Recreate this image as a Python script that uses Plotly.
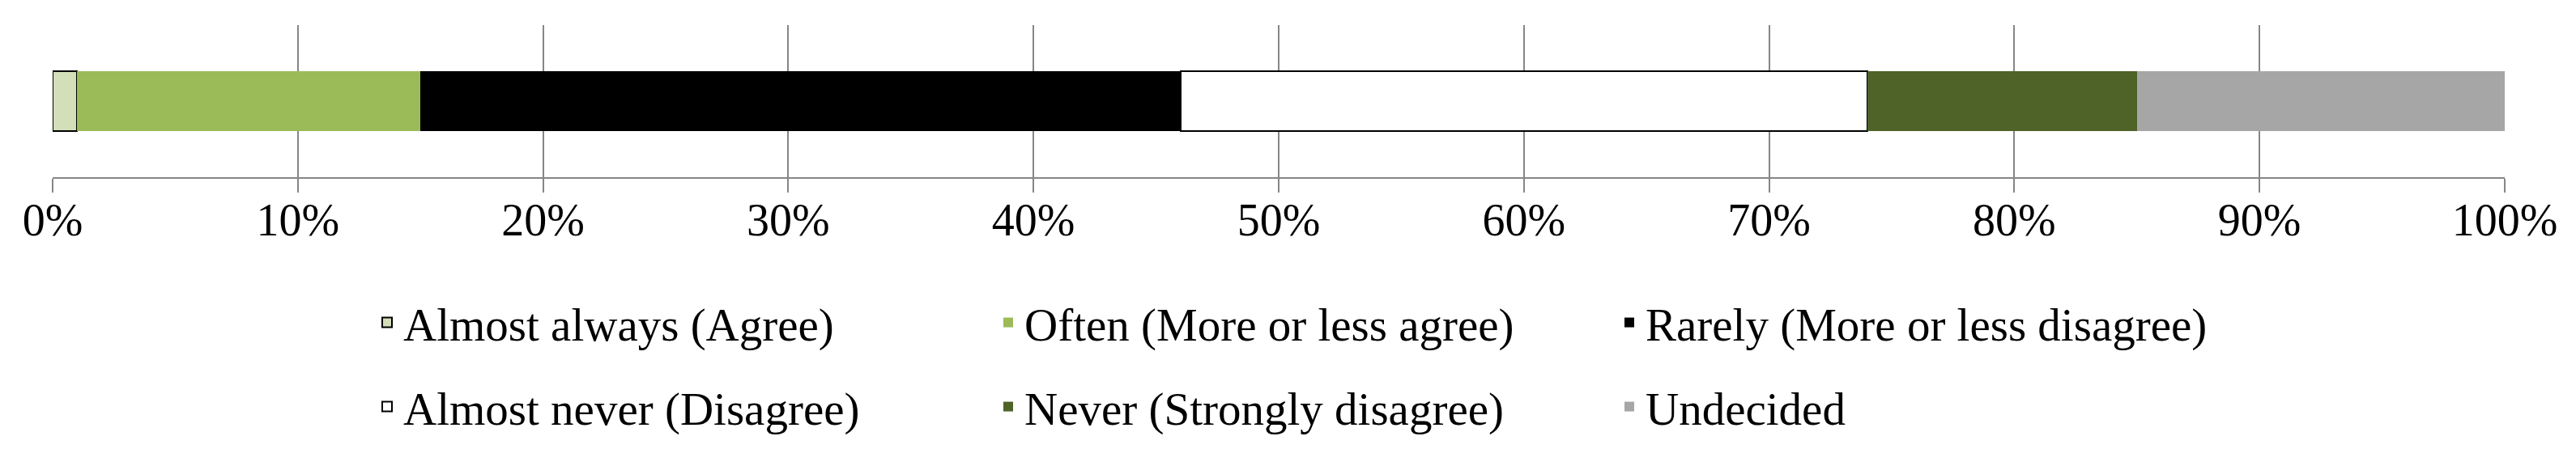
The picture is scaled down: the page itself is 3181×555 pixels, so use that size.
import plotly.graph_objects as go

categories = ["Responses"]
series_names = [
    "Almost always (Agree)",
    "Often (More or less agree)",
    "Rarely (More or less disagree)",
    "Almost never (Disagree)",
    "Never (Strongly disagree)",
    "Undecided",
]
series_values = [1, 14, 31, 28, 11, 15]
series_colors = ["#D3DFB8", "#9BBB59", "#000000", "#FFFFFF", "#4F6228", "#A6A6A6"]
series_borders = [2, 0, 0, 2, 0, 0]
legend_rows = ["legend", "legend", "legend", "legend2", "legend2", "legend2"]
tick_vals = [0, 10, 20, 30, 40, 50, 60, 70, 80, 90, 100]
tick_text = ["0%", "10%", "20%", "30%", "40%", "50%", "60%", "70%", "80%", "90%", "100%"]

W, H = 3181, 555
FONT = "Liberation Serif"
GRID = "#868686"

fig = go.Figure()
for name, val, col, bw, lg in zip(series_names, series_values, series_colors, series_borders, legend_rows):
    fig.add_trace(go.Bar(
        y=categories, x=[val], name=name, orientation="h",
        marker=dict(color=col, line=dict(color="#000000", width=bw)),
        legend=lg,
    ))

leg_common = dict(
    orientation="h", xref="container", yref="container",
    xanchor="left", yanchor="middle",
    entrywidth=722, entrywidthmode="pixels",
    font=dict(family=FONT, size=57, color="#000000"),
    bgcolor="rgba(0,0,0,0)", borderwidth=0, traceorder="normal",
    tracegroupgap=0,
)

fig.update_layout(
    width=W, height=H,
    margin=dict(l=57, r=96, t=23, b=344),
    barmode="stack", bargap=0.606,
    plot_bgcolor="#FFFFFF", paper_bgcolor="#FFFFFF",
    showlegend=True,
    legend=dict(x=450 / W, y=1 - 391 / H, **leg_common),
    legend2=dict(x=450 / W, y=1 - 495 / H, **leg_common),
    xaxis=dict(
        range=[0, 100], tickmode="array", tickvals=tick_vals, ticktext=tick_text,
        showgrid=True, gridcolor=GRID, gridwidth=2,
        showline=True, linecolor=GRID, linewidth=2,
        ticks="outside", ticklen=17, tickwidth=2, tickcolor=GRID,
        tickfont=dict(family=FONT, size=56, color="#000000"),
        ticklabelstandoff=-14, zeroline=False, fixedrange=True,
    ),
    yaxis=dict(showticklabels=False, showgrid=False, zeroline=False, showline=False,
               ticks="", fixedrange=True),
)

fig.write_html("out.html")
